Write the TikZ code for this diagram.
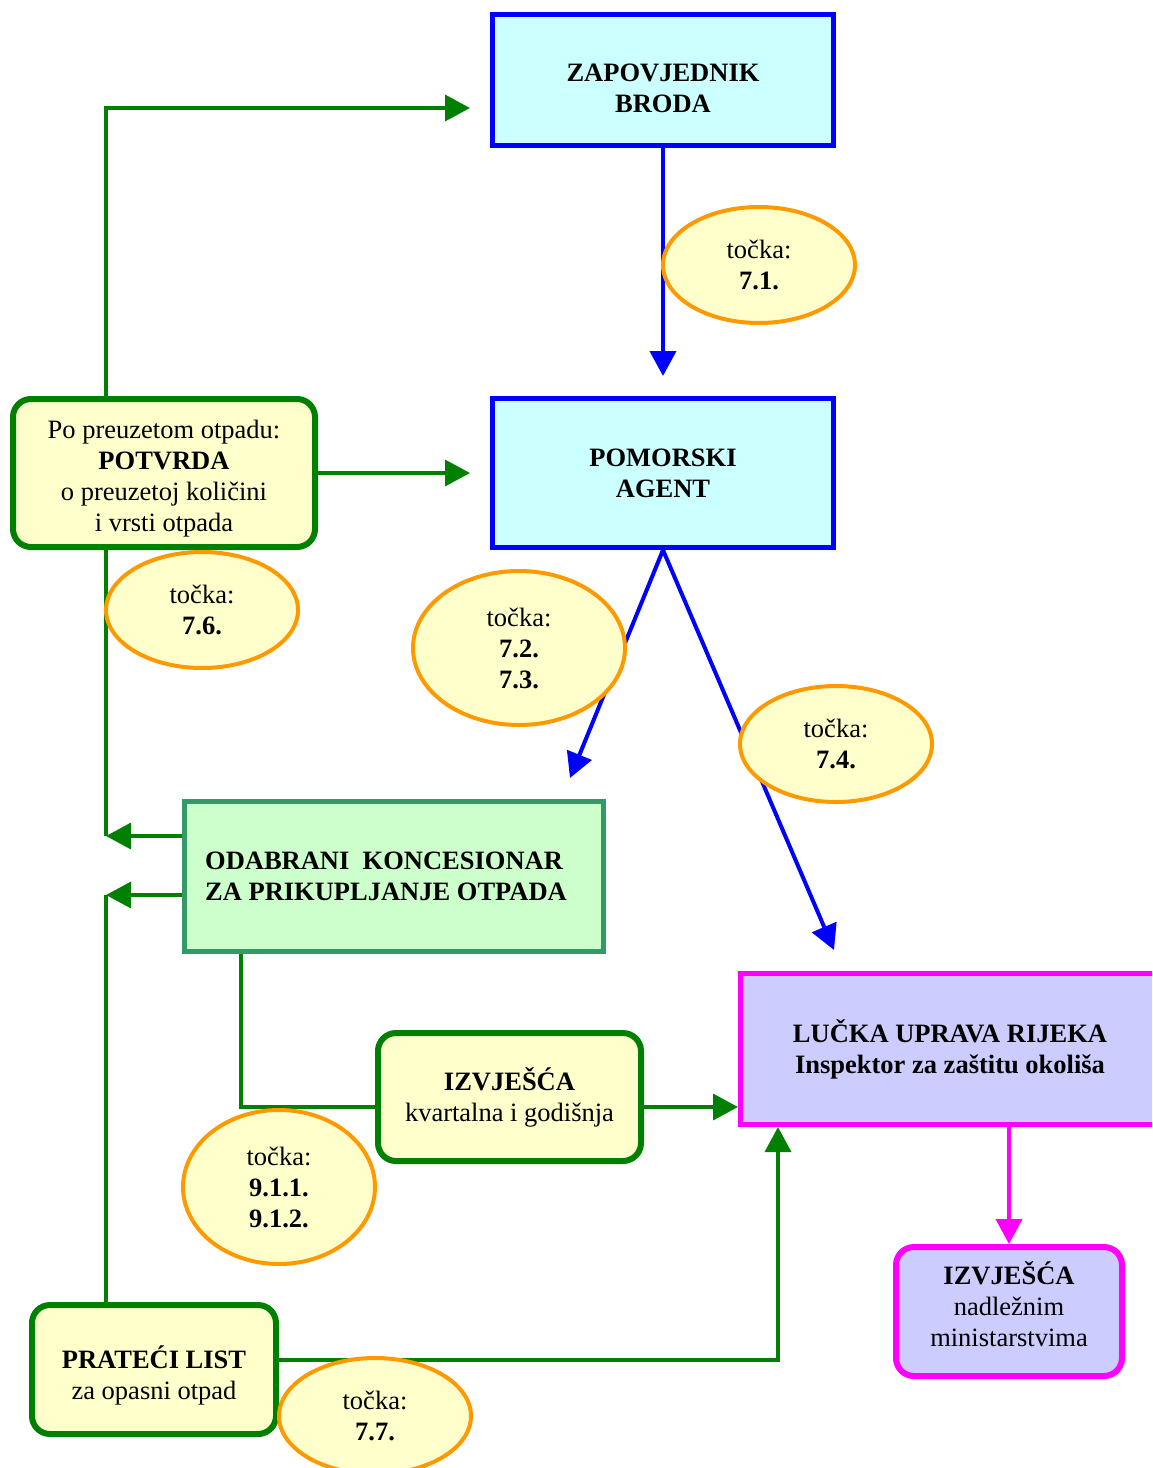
\documentclass[tikz,border=0pt]{standalone}
\usepackage{fontspec}
\setmainfont{Liberation Serif}
\usetikzlibrary{arrows.meta,shapes.geometric}
\definecolor{gr}{HTML}{008000}
\definecolor{kgr}{HTML}{339966}
\definecolor{ylw}{HTML}{FFFFCC}
\definecolor{cyanf}{HTML}{CCFFFF}
\definecolor{grf}{HTML}{CCFFCC}
\definecolor{lavf}{HTML}{CCCCFF}
\definecolor{orng}{HTML}{FF9900}
\definecolor{mag}{HTML}{FF00FF}
\definecolor{blu}{HTML}{0000FF}
\newcommand{\basefont}{\fontsize{26.5}{31}\selectfont}
\tikzset{
  sqbox/.style={draw, rectangle, line width=5pt, inner sep=0pt, align=center, font=\basefont\bfseries},
  rbox/.style={draw=gr, line width=6pt, rounded corners=18pt, fill=ylw, align=center, inner sep=0pt},
  ell/.style={ellipse, draw=orng, line width=4pt, fill=ylw, inner sep=0pt, align=center},
  gline/.style={draw=gr, line width=3.5pt},
  garrow/.style={draw=gr, line width=3.5pt, -{Triangle[length=25pt,width=26pt]}},
  barrow/.style={draw=blu, line width=4pt, -{Triangle[length=25pt,width=26pt]}},
  marrow/.style={draw=mag, line width=4pt, -{Triangle[length=25pt,width=26pt]}},
}
\begin{document}
\begin{tikzpicture}[x=1pt,y=-1pt,font=\basefont]
\clip (0,0) rectangle (1152,1468);
\fill[white] (0,0) rectangle (1152,1468);

% boxes
\node[sqbox, draw=blu, fill=cyanf, minimum width=341pt, minimum height=131pt] (zap) at (663,80) {\rule{0pt}{34pt}ZAPOVJEDNIK\\BRODA};
\node[sqbox, draw=blu, fill=cyanf, minimum width=341pt, minimum height=149pt] (pom) at (663,473) {POMORSKI\\AGENT};
\node[rbox, minimum width=302pt, minimum height=148pt] (pot) at (164,473) {\rule{0pt}{30pt}Po preuzetom otpadu:\\\textbf{POTVRDA}\\o preuzetoj količini\\i vrsti otpada};
\node[sqbox, draw=kgr, fill=grf, minimum width=419pt, minimum height=150pt, align=left] (kon) at (394,876.5) {ODABRANI~~KONCESIONAR\\ZA PRIKUPLJANJE OTPADA\hspace*{16pt}};
\node[rbox, minimum width=263pt, minimum height=128pt] (izv1) at (509.5,1097) {\textbf{IZVJEŠĆA}\\kvartalna i godišnja};
\node[sqbox, draw=mag, fill=lavf, minimum width=419pt, minimum height=151pt] (luc) at (950,1049) {LUČKA UPRAVA RIJEKA\\Inspektor za zaštitu okoliša};
\node[rbox, minimum width=244pt, minimum height=129pt] (pra) at (154,1369.5) {\rule{0pt}{34pt}\textbf{PRATEĆI LIST}\\za opasni otpad};
\node[rbox, draw=mag, fill=lavf, minimum width=226pt, minimum height=129pt] (izv2) at (1009,1311.5) {\textbf{IZVJEŠĆA}\\nadležnim\\ministarstvima\rule[-16pt]{0pt}{0pt}};

% helper coordinates
\coordinate (gx) at (106,0);
\coordinate (t1) at (470,108);
\coordinate (t2) at (570,778);
\coordinate (t3) at (834,950);
\coordinate (k1) at (106,836);
\coordinate (k2) at (106,895);
\coordinate (kx) at (241,0);
\coordinate (iy) at (0,1107);
\coordinate (py) at (0,1360);
\coordinate (lx) at (778,0);
\coordinate (mx) at (1009,0);
\coordinate (pe) at (470,0);

% connectors
\draw[barrow, shorten >=20pt] (zap.south) -- (pom.north);
\draw[garrow] (pot.north -| gx) |- (t1);
\draw[garrow] (pot.east) -- (pot.east -| pe);
\draw[barrow] (pom.south) -- (t2);
\draw[barrow] (pom.south) -- (t3);
\draw[gline] (pot.south -| gx) -- (k1);
\draw[garrow] (kon.west |- k1) -- (k1);
\draw[garrow] (kon.west |- k2) -- (k2);
\draw[gline] (k2) -- (pra.north -| k2);
\draw[gline] (kon.south -| kx) |- (izv1.west |- iy);
\draw[garrow] (izv1.east |- iy) -- (luc.west |- iy);
\draw[garrow] (pra.east |- py) -| (luc.south -| lx);
\draw[marrow] (luc.south -| mx) -- (izv2.north);

% ellipses
\node[ell, minimum width=192pt, minimum height=116pt] (e71) at (759,265) {točka:\\\textbf{7.1.}};
\node[ell, minimum width=192pt, minimum height=116pt] (e76) at (202,610) {točka:\\\textbf{7.6.}};
\node[ell, minimum width=212pt, minimum height=154pt] (e723) at (519,648) {točka:\\\textbf{7.2.}\\\textbf{7.3.}};
\node[ell, minimum width=192pt, minimum height=116pt] (e74) at (836,744) {točka:\\\textbf{7.4.}};
\node[ell, minimum width=192pt, minimum height=154pt] (e91) at (279,1187) {točka:\\\textbf{9.1.1.}\\\textbf{9.1.2.}};
\node[ell, minimum width=192pt, minimum height=116pt] (e77) at (375,1416) {točka:\\\textbf{7.7.}};
\end{tikzpicture}
\end{document}
